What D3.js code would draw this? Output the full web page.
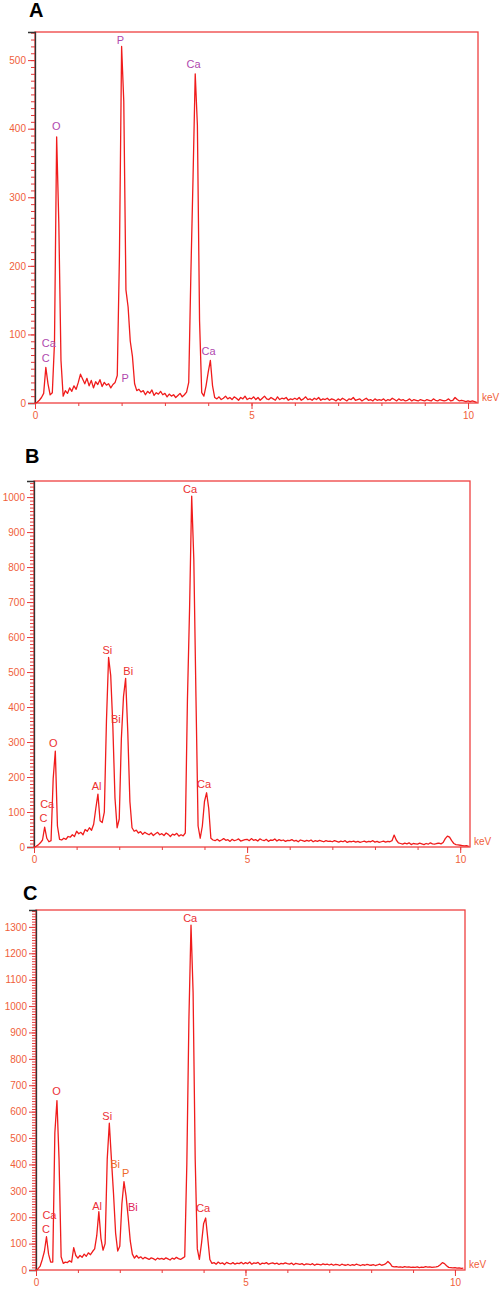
<!DOCTYPE html>
<html>
<head>
<meta charset="utf-8">
<script src="https://cdn.jsdelivr.net/npm/d3@7"></script>
<style>
  body { margin: 0; background: #fff; }
  svg { display: block; }
  text { font-family: "Liberation Sans", Arial, sans-serif; }
</style>
</head>
<body>
<div id="chart"></div>
<script>
// EDS spectra, one count per 0.05 keV channel starting at 0 keV
var step = 0.05;

var countsA = [
  0, 1, 4, 8, 14, 52, 28, 12, 15, 88, 388, 262, 62, 10, 18, 14, 22, 17, 25, 20,
  30, 42, 35, 28, 36, 25, 33, 22, 31, 27, 34, 24, 30, 26, 28, 22, 27, 30, 40, 215,
  520, 440, 165, 140, 90, 68, 28, 18, 20, 16, 18, 12, 17, 14, 19, 11, 15, 13, 17, 12,
  14, 9, 13, 10, 12, 8, 11, 14, 9, 12, 16, 30, 190, 330, 480, 405, 120, 15, 10, 25,
  45, 62, 25, 8, 6, 9, 5, 7, 10, 6, 8, 5, 9, 7, 4, 8, 6, 10, 5, 7,
  6, 9, 5, 8, 4, 7, 10, 6, 5, 8, 6, 4, 9, 5, 7, 6, 8, 4, 6, 5,
  7, 5, 8, 4, 6, 9, 5, 6, 4, 7, 5, 8, 4, 6, 5, 7, 4, 6, 5, 3,
  6, 4, 7, 5, 3, 6, 5, 8, 4, 5, 6, 3, 5, 7, 4, 5, 3, 6, 4, 5,
  4, 6, 3, 5, 4, 7, 5, 3, 6, 4, 5, 3, 4, 6, 3, 5, 4, 3, 5, 4,
  3, 5, 4, 3, 6, 4, 3, 5, 4, 3, 4, 6, 3, 4, 8, 5, 3, 4, 3, 2,
  3, 2, 3, 2, 1
];

var countsB = [
  0, 2, 6, 12, 20, 57, 25, 15, 18, 195, 274, 60, 22, 20, 25, 22, 30, 28, 35, 30,
  45, 38, 42, 35, 50, 45, 55, 48, 65, 110, 151, 75, 70, 100, 360, 542, 490, 345, 140, 55,
  80, 310, 430, 482, 330, 130, 55, 45, 48, 40, 44, 36, 42, 38, 35, 40, 33, 38, 42, 35,
  38, 33, 40, 36, 30, 37, 34, 39, 31, 35, 32, 40, 420, 680, 1003, 820, 430, 60, 25, 60,
  130, 155, 110, 25, 20, 18, 22, 17, 20, 24, 19, 21, 16, 22, 18, 20, 23, 17, 19, 21,
  22, 18, 24, 19, 21, 17, 23, 20, 18, 22, 16, 20, 19, 23, 17, 21, 18, 20, 16, 19,
  18, 21, 17, 19, 15, 20, 18, 16, 19, 17, 20, 15, 18, 16, 19, 17, 15, 18, 16, 17,
  15, 18, 16, 14, 17, 15, 18, 13, 16, 15, 17, 14, 16, 13, 15, 17, 14, 16, 15, 18,
  14, 16, 13, 15, 17, 14, 16, 15, 18, 34, 20, 12, 10, 8, 11, 9, 12, 7, 10, 9,
  8, 11, 9, 7, 10, 8, 12, 9, 8, 10, 11, 9, 13, 24, 31, 28, 18, 10, 7, 6,
  5, 4, 3, 4, 2
];

var countsC = [
  0, 5, 15, 40, 70, 126, 60, 30, 30, 520, 642, 420, 50, 25, 30, 28, 35, 30, 85, 55,
  45, 55, 48, 60, 52, 65, 58, 70, 80, 130, 221, 120, 75, 100, 420, 556, 420, 290, 140, 72,
  90, 250, 335, 280, 200, 110, 60, 45, 55, 45, 50, 42, 48, 44, 40, 46, 43, 38, 45, 41,
  44, 40, 46, 42, 38, 45, 41, 48, 43, 40, 45, 50, 400, 950, 1307, 1050, 420, 80, 40, 100,
  175, 197, 120, 40, 25, 28, 22, 30, 24, 27, 21, 29, 25, 23, 28, 22, 26, 24, 29, 23,
  28, 24, 30, 22, 27, 25, 29, 21, 26, 24, 28, 22, 25, 27, 23, 26, 21, 25, 23, 27,
  24, 22, 26, 20, 25, 23, 21, 24, 19, 23, 22, 20, 24, 18, 22, 21, 19, 23, 20, 22,
  19, 22, 18, 21, 20, 17, 22, 19, 18, 21, 17, 20, 18, 22, 19, 17, 20, 18, 21, 19,
  18, 20, 17, 19, 22, 18, 20, 24, 32, 25, 14, 12, 13, 11, 12, 10, 13, 11, 12, 10,
  11, 10, 12, 9, 11, 10, 13, 11, 12, 10, 11, 12, 14, 20, 28, 24, 16, 10, 9, 8,
  9, 7, 8, 6, 7
];

// peak labels: element, energy (keV), counts at the text baseline
var labelsA = [
  ["C", 0.25, 60], ["Ca", 0.32, 82], ["O", 0.49, 398], ["P", 1.97, 524],
  ["P", 2.08, 30], ["Ca", 3.66, 488], ["Ca", 4.01, 70]
];
var labelsB = [
  ["C", 0.22, 72], ["Ca", 0.31, 112], ["O", 0.45, 287], ["Al", 1.47, 163],
  ["Si", 1.72, 551], ["Bi", 1.92, 353], ["Bi", 2.21, 491], ["Ca", 3.66, 1012],
  ["Ca", 3.99, 168]
];
var labelsC = [
  ["C", 0.24, 139], ["Ca", 0.32, 193], ["O", 0.49, 663], ["Al", 1.46, 227],
  ["Si", 1.70, 569], ["Bi", 1.89, 386], ["P", 2.14, 354], ["Bi", 2.31, 224],
  ["Ca", 3.68, 1317], ["Ca", 3.99, 221]
];

var xMajor = [0, 5, 10];

var red = "#f01c1c";
var frameRed = "#ee4040";
var tickText = "#f0603a";

var panels = [
  {name: "A", counts: countsA, labels: labelsA, yMax: 541, xMax: 10.23,
   left: 35, right: 478, top: 32, bottom: 403, lx: 29, ly: 17,
   colors: {}, labelColor: "#b048ae"},
  {name: "B", counts: countsB, labels: labelsB, yMax: 1046, xMax: 10.23,
   left: 34, right: 470, top: 481, bottom: 847, lx: 25, ly: 463,
   colors: {}, labelColor: "#ec3030"},
  {name: "C", counts: countsC, labels: labelsC, yMax: 1364, xMax: 10.24,
   left: 36, right: 465, top: 910, bottom: 1270, lx: 23, ly: 900,
   colors: {5: "#ee6a28", 6: "#ee6a28", 7: "#e0245c"}, labelColor: "#ec3038"}
];

var svg = d3.select("#chart").append("svg")
    .attr("width", 500)
    .attr("height", 1296);

panels.forEach(function(p) {
  var x = d3.scaleLinear().domain([0, p.xMax]).range([p.left, p.right]);
  var y = d3.scaleLinear().domain([0, p.yMax]).range([p.bottom, p.top]);
  var g = svg.append("g");

  // panel letter
  g.append("text")
      .attr("x", p.lx).attr("y", p.ly)
      .style("font-size", "20px").style("font-weight", "bold")
      .text(p.name);

  // frame
  g.append("rect")
      .attr("x", p.left).attr("y", p.top)
      .attr("width", p.right - p.left).attr("height", p.bottom - p.top)
      .attr("fill", "none").attr("stroke", frameRed).attr("stroke-width", 1.3);

  // minor ticks
  g.append("g")
      .attr("transform", "translate(" + p.left + ",0)")
      .call(d3.axisLeft(y).tickValues(d3.range(0, p.yMax, 10)).tickSize(4).tickFormat(""))
      .call(function(a) { a.select(".domain").remove(); a.selectAll("line").attr("stroke", "#e83a3a"); });
  g.append("g")
      .attr("transform", "translate(0," + p.bottom + ")")
      .call(d3.axisBottom(x).tickValues(d3.range(0, 11, 1)).tickSize(3).tickFormat(""))
      .call(function(a) { a.select(".domain").remove(); a.selectAll("line").attr("stroke", "#e83a3a"); });

  // major ticks with labels
  g.append("g")
      .attr("transform", "translate(" + p.left + ",0)")
      .call(d3.axisLeft(y).tickValues(d3.range(0, p.yMax, 100)).tickSize(7).tickPadding(2)
              .tickFormat(d3.format("d")))
      .call(function(a) {
        a.select(".domain").attr("stroke", "#333").attr("stroke-width", 1.3);
        a.selectAll("line").attr("stroke", "#e83a3a");
        a.selectAll("text").attr("fill", tickText).style("font-size", "10px")
          .style("font-family", "'Liberation Sans', Arial, sans-serif");
      });
  g.append("g")
      .attr("transform", "translate(0," + p.bottom + ")")
      .call(d3.axisBottom(x).tickValues(xMajor).tickSize(6).tickPadding(3)
              .tickFormat(d3.format("d")))
      .call(function(a) {
        a.select(".domain").remove();
        a.selectAll("line").attr("stroke", "#e83a3a");
        a.selectAll("text").attr("fill", tickText).style("font-size", "10px")
          .style("font-family", "'Liberation Sans', Arial, sans-serif");
      });

  g.append("text")
      .attr("x", p.right + 4).attr("y", p.bottom - 2)
      .attr("fill", tickText).style("font-size", "10px")
      .text("keV");

  // spectrum
  var line = d3.line()
      .x(function(d, i) { return x(i * step); })
      .y(function(d) { return y(d); });
  g.append("path")
      .datum(p.counts)
      .attr("d", line)
      .attr("fill", "none")
      .attr("stroke", red)
      .attr("stroke-width", 1.3)
      .attr("stroke-linejoin", "round");

  // peak labels
  g.selectAll(".peak")
      .data(p.labels)
      .enter().append("text")
      .attr("class", "peak")
      .attr("x", function(d) { return x(d[1]); })
      .attr("y", function(d) { return y(d[2]); })
      .attr("text-anchor", "middle")
      .attr("fill", function(d, i) { return p.colors[i] || p.labelColor; })
      .style("font-size", "11px")
      .text(function(d) { return d[0]; });
});
</script>
</body>
</html>
